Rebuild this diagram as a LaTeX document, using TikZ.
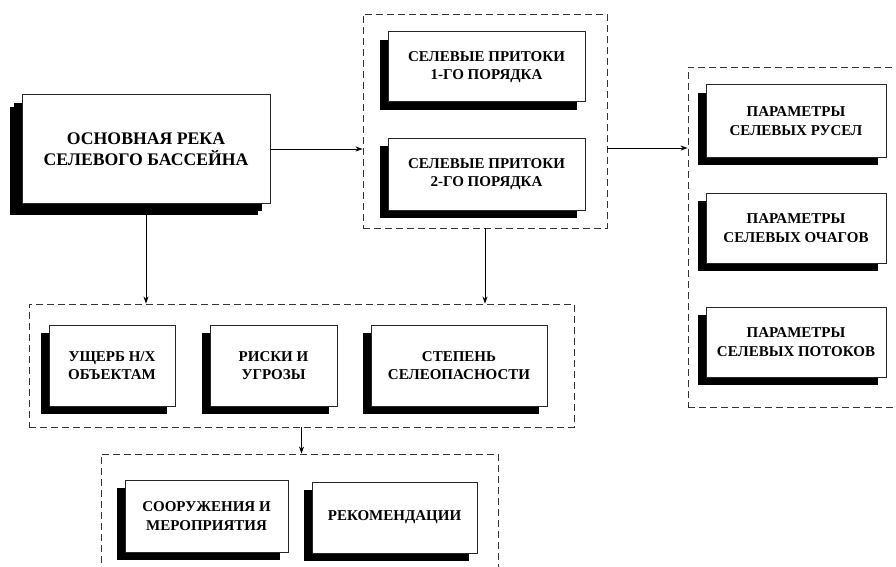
\documentclass[tikz,border=0pt]{standalone}
\usepackage{fontspec}
\setmainfont{Liberation Serif}
\usetikzlibrary{arrows.meta}

\begin{document}
\begin{tikzpicture}[x=1pt, y=-1pt,
    box/.style={draw=black!85, line width=1pt, fill=white, align=center, inner sep=0pt,
        font=\bfseries\fontsize{15}{18.5}\selectfont,
        preaction={fill=black, transform canvas={shift={(-8pt,-8pt)}}}},
    group/.style={draw=black!80, line width=0.9pt, dash pattern=on 7pt off 4pt, inner sep=0pt},
    arr/.style={-{Stealth[length=7pt, width=5pt]}, line width=0.8pt}]
    \clip (0, 0) rectangle (896, 567);

    % dashed groups
    \node[group, minimum width=244, minimum height=214] (rivers) at (485, 121) {};
    \node[group, minimum width=240, minimum height=340] (params) at (808, 237) {};
    \node[group, minimum width=545, minimum height=123] (effects) at (301.5, 365.5) {};
    \node[group, minimum width=397, minimum height=160] (measures) at (299.5, 534) {};

    % main river
    \node[box, minimum width=248, minimum height=108, font=\bfseries\fontsize{17.7}{20.5}\selectfont,
        preaction={fill=black, transform canvas={shift={(-12pt,-12pt)}}}]
        (main) at (146, 149) {ОСНОВНАЯ РЕКА\\СЕЛЕВОГО БАССЕЙНА};

    \node[box, minimum width=197, minimum height=70] (first) at (486.5, 67) {СЕЛЕВЫЕ ПРИТОКИ\\1-ГО ПОРЯДКА};
    \node[box, minimum width=197, minimum height=72] (second) at (486.5, 174) {СЕЛЕВЫЕ ПРИТОКИ\\2-ГО ПОРЯДКА};

    \node[box, minimum width=180, minimum height=72] (beds) at (796, 121) {ПАРАМЕТРЫ\\СЕЛЕВЫХ РУСЕЛ};
    \node[box, minimum width=180, minimum height=70] (sources) at (796, 228) {ПАРАМЕТРЫ\\СЕЛЕВЫХ ОЧАГОВ};
    \node[box, minimum width=180, minimum height=70] (flows) at (796, 342) {ПАРАМЕТРЫ\\СЕЛЕВЫХ ПОТОКОВ};

    \node[box, minimum width=126, minimum height=81] (damage) at (112, 365.5) {УЩЕРБ Н/Х\\ОБЪЕКТАМ};
    \node[box, minimum width=127, minimum height=81] (risks) at (273.5, 365.5) {РИСКИ И\\УГРОЗЫ};
    \node[box, minimum width=176, minimum height=81] (hazard) at (459, 365.5) {СТЕПЕНЬ\\СЕЛЕОПАСНОСТИ};

    \node[box, minimum width=163, minimum height=72] (works) at (206.5, 516) {СООРУЖЕНИЯ И\\МЕРОПРИЯТИЯ};
    \node[box, minimum width=165, minimum height=71] (advice) at (394.5, 517.5) {РЕКОМЕНДАЦИИ};

    % arrows
    \draw[arr] (main.east) -- (main.east -| rivers.west);
    \draw[arr] (rivers.east |- 0, 148) -- (params.west |- 0, 148);
    \draw[arr] (main.south) -- (main.south |- effects.north);
    \draw[arr] (rivers.south) -- (rivers.south |- effects.north);
    \draw[arr] (effects.south) -- (effects.south |- measures.north);
\end{tikzpicture}
\end{document}
